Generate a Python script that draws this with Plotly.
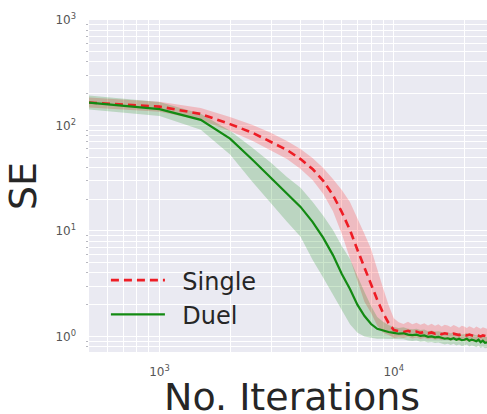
import plotly.graph_objects as go

# Iteration checkpoints (every 500 iterations)
iterations = [i * 500 for i in range(1, 51)]

# Single network: mean squared error and its spread
single_mean = [165, 151, 128.5, 103, 85, 69.8, 58.6, 48, 38.7, 29.8,
               21.9, 15.1, 10.2, 6.6, 4.46, 3.21, 2.22, 1.67, 1.34, 1.15,
               1.12, 1.10, 1.13, 1.09, 1.11, 1.08, 1.10, 1.07, 1.09, 1.06,
               1.08, 1.05, 1.07, 1.06, 1.04, 1.06, 1.05, 1.03, 1.05, 1.04,
               1.02, 1.04, 1.03, 1.01, 1.03, 1.02, 1.00, 1.02, 1.01, 1.00]
single_upper = [184, 168, 146.5, 120, 101, 85, 71.3, 59.7, 49.2, 39.6,
                31.1, 24.4, 18.8, 13.3, 9.37, 6.74, 4.27, 2.88, 1.98, 1.49,
                1.36, 1.31, 1.38, 1.30, 1.35, 1.29, 1.33, 1.27, 1.32, 1.26,
                1.30, 1.24, 1.29, 1.27, 1.23, 1.28, 1.25, 1.21, 1.26, 1.24,
                1.20, 1.25, 1.22, 1.19, 1.24, 1.21, 1.18, 1.22, 1.20, 1.18]
single_lower = [148, 135, 112.7, 88.4, 71.4, 57.4, 48.2, 38.6, 30.4, 22.4,
                15.4, 9.34, 5.53, 3.28, 2.12, 1.67, 1.26, 1.08, 1.03, 0.966,
                0.98, 0.965, 0.99, 0.955, 0.975, 0.945, 0.965, 0.94, 0.955, 0.93,
                0.945, 0.92, 0.94, 0.93, 0.91, 0.93, 0.92, 0.90, 0.92, 0.91,
                0.895, 0.91, 0.90, 0.885, 0.90, 0.895, 0.875, 0.895, 0.885, 0.875]

# Duel network: mean squared error and its spread
duel_mean = [165, 143, 113, 75, 47, 31.8, 22.4, 16.9, 12.2, 8.6,
             5.9, 3.9, 2.82, 1.99, 1.56, 1.31, 1.18, 1.13, 1.10, 1.08,
             1.06, 1.07, 1.04, 1.03, 1.04, 1.01, 1.02, 0.99, 1.00, 0.98,
             0.99, 0.97, 0.95, 0.96, 0.94, 0.96, 0.93, 0.95, 0.92, 0.93,
             0.95, 0.91, 0.93, 0.92, 0.90, 0.93, 0.88, 0.91, 0.87, 0.88]
duel_upper = [192, 167, 129, 89, 61, 44, 32.5, 25.6, 18.9, 13.9,
              10.2, 7.19, 5.43, 3.67, 2.64, 1.94, 1.53, 1.375, 1.28, 1.23,
              1.20, 1.22, 1.18, 1.17, 1.18, 1.15, 1.16, 1.12, 1.14, 1.11,
              1.12, 1.10, 1.08, 1.09, 1.07, 1.09, 1.05, 1.08, 1.04, 1.05,
              1.08, 1.03, 1.05, 1.04, 1.02, 1.05, 1.00, 1.03, 0.99, 1.00]
duel_lower = [142, 123, 91, 53, 29, 18, 12.2, 8.8, 5.33, 3.59,
              2.46, 1.78, 1.30, 1.08, 1.00, 0.97, 0.95, 0.95, 0.945, 0.94,
              0.93, 0.94, 0.915, 0.905, 0.915, 0.89, 0.90, 0.875, 0.885, 0.865,
              0.875, 0.855, 0.84, 0.85, 0.83, 0.85, 0.82, 0.84, 0.81, 0.82,
              0.84, 0.80, 0.82, 0.81, 0.79, 0.82, 0.775, 0.80, 0.77, 0.775]

x_tick_vals = [1000, 10000]
x_tick_text = ["10<sup>3</sup>", "10<sup>4</sup>"]
y_tick_vals = [1, 10, 100, 1000]
y_tick_text = ["10<sup>0</sup>", "10<sup>1</sup>", "10<sup>2</sup>", "10<sup>3</sup>"]

# Minor grid positions (2..9 within each decade)
x_minor_vals = [600, 700, 800, 900] + [k * 1000 for k in range(2, 10)] + [20000]
y_minor_vals = [0.8, 0.9] + [k * 10 ** e for e in range(0, 3) for k in range(2, 10)]

RED = "#ee1d25"
GREEN = "#128a12"
RED_FILL = "rgba(255,0,0,0.2)"
GREEN_FILL = "rgba(0,128,0,0.2)"

fig = go.Figure()


def add_band(upper, lower, fill):
    fig.add_trace(go.Scatter(x=iterations, y=upper, mode="lines",
                             line=dict(width=0), showlegend=False,
                             hoverinfo="skip"))
    fig.add_trace(go.Scatter(x=iterations, y=lower, mode="lines",
                             line=dict(width=0), fill="tonexty",
                             fillcolor=fill, showlegend=False,
                             hoverinfo="skip"))


add_band(single_upper, single_lower, RED_FILL)
add_band(duel_upper, duel_lower, GREEN_FILL)

fig.add_trace(go.Scatter(x=iterations, y=single_mean, mode="lines",
                         name="\u00a0\u2009Single", legendgroup="single",
                         line=dict(color=RED, width=2.6, dash="8px,5px")))
fig.add_trace(go.Scatter(x=iterations, y=duel_mean, mode="lines",
                         name="\u00a0\u2009Duel", legendgroup="duel",
                         line=dict(color=GREEN, width=2.2)))

tick_font = dict(family="DejaVu Sans", size=12, color="#555555")
title_font = dict(family="DejaVu Sans", size=38, color="#262626")

fig.update_xaxes(type="log", range=[2.69897, 4.39794],
                 tickvals=x_tick_vals, ticktext=x_tick_text,
                 tickfont=tick_font, ticklabelstandoff=11,
                 showgrid=True, gridcolor="white", gridwidth=1.3,
                 minor=dict(tickvals=x_minor_vals, showgrid=True,
                            gridcolor="white", gridwidth=0.8, ticks=""),
                 zeroline=False, showline=False,
                 automargin=False)
fig.update_yaxes(type="log", range=[-0.148, 3],
                 tickvals=y_tick_vals, ticktext=y_tick_text,
                 tickfont=tick_font, ticklabelstandoff=12,
                 showgrid=True, gridcolor="white", gridwidth=1.3,
                 minor=dict(tickvals=y_minor_vals, showgrid=True,
                            gridcolor="white", gridwidth=0.8,
                            ticks="outside", ticklen=2, tickwidth=1,
                            tickcolor="#b8b8c0"),
                 zeroline=False, showline=False,
                 title=dict(text="SE", standoff=7, font=title_font),
                 automargin=False)

# x-axis title placed below the tick labels
fig.add_annotation(text="No. Iterations", xref="paper", yref="paper",
                   x=0.509, y=-0.137, xanchor="center", yanchor="middle",
                   showarrow=False, font=title_font)

fig.update_layout(
    width=487, height=414,
    margin=dict(l=89, r=0, t=20, b=62),
    paper_bgcolor="white",
    plot_bgcolor="#EAEAF2",
    font=dict(family="DejaVu Sans"),
    legend=dict(x=0.0425, y=0.045, xanchor="left", yanchor="bottom",
                traceorder="normal",
                bgcolor="rgba(0,0,0,0)", itemwidth=54, tracegroupgap=3,
                font=dict(family="DejaVu Sans", size=24, color="#262626")),
)

fig.write_html("out.html")
